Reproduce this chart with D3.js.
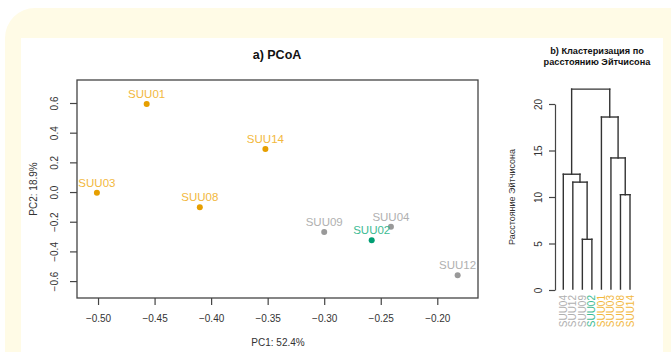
<!DOCTYPE html>
<html>
<head>
<meta charset="utf-8">
<script src="https://cdn.jsdelivr.net/npm/d3@7"></script>
<style>
  body { margin: 0; background: #fff; }
  svg { display: block; font-family: "Liberation Sans", Arial, sans-serif; }
</style>
</head>
<body>
<div id="chart-area"></div>
<script>
// data: PCoA coordinates
const samples = ["SUU01", "SUU14", "SUU03", "SUU08", "SUU09", "SUU02", "SUU04", "SUU12"];
const pc1 = [-0.457, -0.352, -0.501, -0.410, -0.300, -0.258, -0.241, -0.182];
const pc2 = [0.593, 0.290, -0.005, -0.103, -0.270, -0.325, -0.234, -0.561];
const group = ["a", "a", "a", "a", "b", "c", "b", "b"];

const xTicks = [-0.50, -0.45, -0.40, -0.35, -0.30, -0.25, -0.20];
const yTicks = [-0.6, -0.4, -0.2, 0.0, 0.2, 0.4, 0.6];

// dendrogram: leaf order and merges (left, right, height)
const leafOrder = ["SUU04", "SUU12", "SUU09", "SUU02", "SUU01", "SUU03", "SUU08", "SUU14"];
const leafGroup = ["b", "b", "b", "c", "a", "a", "a", "a"];
const merges = [
  ["SUU09", "SUU02", 5.45],
  ["SUU08", "SUU14", 10.25],
  ["SUU12", "m0", 11.6],
  ["SUU04", "m2", 12.45],
  ["SUU03", "m1", 14.2],
  ["SUU01", "m4", 18.6],
  ["m3", "m5", 21.6]
];
const dTicks = [0, 5, 10, 15, 20];

const pointColor = { a: "#e69f00", b: "#999999", c: "#009e73" };
const labelColor = { a: "#f2b83d", b: "#b0b0b0", c: "#3dbb93" };

const canvas = { width: 671, height: 352 };
const svg = d3.select("#chart-area").append("svg")
  .attr("width", canvas.width).attr("height", canvas.height);

// background frame
svg.append("rect").attr("x", 5).attr("y", 8).attr("width", 700).attr("height", 400)
  .attr("rx", 30).attr("fill", "#fffbe6");
svg.append("rect").attr("x", 21).attr("y", 38).attr("width", 642).attr("height", 330)
  .attr("fill", "#ffffff");

const ink = "#333";

// ---- a) PCoA ----
const plot = { left: 77, right: 478, top: 80, bottom: 298 };
const x = d3.scaleLinear().domain([-0.5186, -0.164]).range([plot.left, plot.right]);
const y = d3.scaleLinear().domain([-0.714, 0.755]).range([plot.bottom, plot.top]);

svg.append("text").attr("x", 277).attr("y", 59).attr("text-anchor", "middle")
  .attr("font-size", 12.5).attr("font-weight", "bold").attr("fill", "#111").text("a) PCoA");

svg.append("rect").attr("x", plot.left).attr("y", plot.top)
  .attr("width", plot.right - plot.left).attr("height", plot.bottom - plot.top)
  .attr("fill", "none").attr("stroke", "#444").attr("stroke-width", 1.3);

const xAxis = svg.append("g").attr("transform", "translate(0," + plot.bottom + ")")
  .call(d3.axisBottom(x).tickValues(xTicks).tickFormat(d3.format(".2f")).tickSize(7).tickPadding(10));
xAxis.select(".domain").remove();

const yAxis = svg.append("g").attr("transform", "translate(" + plot.left + ",0)")
  .call(d3.axisLeft(y).tickValues(yTicks).tickFormat(d3.format(".1f")).tickSize(7).tickPadding(0));
yAxis.select(".domain").remove();
yAxis.selectAll(".tick text")
  .attr("transform", "rotate(-90)").attr("x", 0).attr("y", -19)
  .attr("dy", 0).attr("text-anchor", "middle");

[xAxis, yAxis].forEach(a => {
  a.selectAll(".tick line").attr("stroke", "#444").attr("stroke-width", 1.2);
  a.selectAll(".tick text").attr("font-size", 10).attr("fill", ink)
    .attr("font-family", "Liberation Sans, Arial, sans-serif");
});

svg.append("text").attr("x", 278).attr("y", 346).attr("text-anchor", "middle")
  .attr("font-size", 10).attr("fill", ink).text("PC1: 52.4%");
svg.append("text").attr("transform", "translate(37,189) rotate(-90)").attr("text-anchor", "middle")
  .attr("font-size", 10).attr("fill", ink).text("PC2: 18.9%");

const pts = samples.map((s, i) => ({ name: s, x: pc1[i], y: pc2[i], g: group[i] }));
svg.selectAll("circle.pt").data(pts).enter().append("circle").attr("class", "pt")
  .attr("cx", d => x(d.x)).attr("cy", d => y(d.y)).attr("r", 3)
  .attr("fill", d => pointColor[d.g]);
svg.selectAll("text.lab").data(pts).enter().append("text").attr("class", "lab")
  .attr("x", d => x(d.x)).attr("y", d => y(d.y) - 6).attr("text-anchor", "middle")
  .attr("font-size", 11.5).attr("fill", d => labelColor[d.g]).text(d => d.name);

// ---- b) dendrogram ----
const dx = d3.scalePoint().domain(leafOrder).range([563.3, 630]);
const dy = d3.scaleLinear().domain([0, 20]).range([290, 104]);

svg.append("text").attr("x", 597).attr("y", 54).attr("text-anchor", "middle")
  .attr("font-size", 9.2).attr("font-weight", "bold").attr("fill", "#111").text("b) Кластеризация по");
svg.append("text").attr("x", 597).attr("y", 64.5).attr("text-anchor", "middle")
  .attr("font-size", 9.2).attr("font-weight", "bold").attr("fill", "#111").text("расстоянию Эйтчисона");

const dAxis = svg.append("g").attr("transform", "translate(555,0)")
  .call(d3.axisLeft(dy).tickValues(dTicks).tickSize(6).tickPadding(0).tickSizeOuter(0));
dAxis.select(".domain").attr("stroke", "#444").attr("stroke-width", 1.2);
dAxis.selectAll(".tick line").attr("stroke", "#444").attr("stroke-width", 1.2);
dAxis.selectAll(".tick text")
  .attr("transform", "rotate(-90)").attr("x", 0).attr("y", -13).attr("dy", 0)
  .attr("text-anchor", "middle").attr("font-size", 10).attr("fill", ink)
  .attr("font-family", "Liberation Sans, Arial, sans-serif");

svg.append("text").attr("transform", "translate(515,197) rotate(-90)").attr("text-anchor", "middle")
  .attr("font-size", 9).attr("fill", ink).text("Расстояние Эйтчисона");

// node positions
const node = {};
leafOrder.forEach(l => { node[l] = { x: dx(l), h: 0.1 }; });
const segs = [];
merges.forEach((m, i) => {
  const a = node[m[0]], b = node[m[1]], h = m[2];
  segs.push([a.x, dy(a.h), a.x, dy(h)]);
  segs.push([b.x, dy(b.h), b.x, dy(h)]);
  segs.push([a.x, dy(h), b.x, dy(h)]);
  node["m" + i] = { x: (a.x + b.x) / 2, h: h };
});
svg.append("g").selectAll("line").data(segs).enter().append("line")
  .attr("x1", d => d[0]).attr("y1", d => d[1]).attr("x2", d => d[2]).attr("y2", d => d[3])
  .attr("stroke", "#333").attr("stroke-width", 1.4).attr("stroke-linecap", "square");

svg.selectAll("text.leaf").data(leafOrder).enter().append("text").attr("class", "leaf")
  .attr("transform", d => "translate(" + (dx(d) + 3.5) + ",295) rotate(-90)")
  .attr("text-anchor", "end").attr("font-size", 10)
  .attr("fill", (d, i) => labelColor[leafGroup[i]]).text(d => d);
</script>
</body>
</html>
